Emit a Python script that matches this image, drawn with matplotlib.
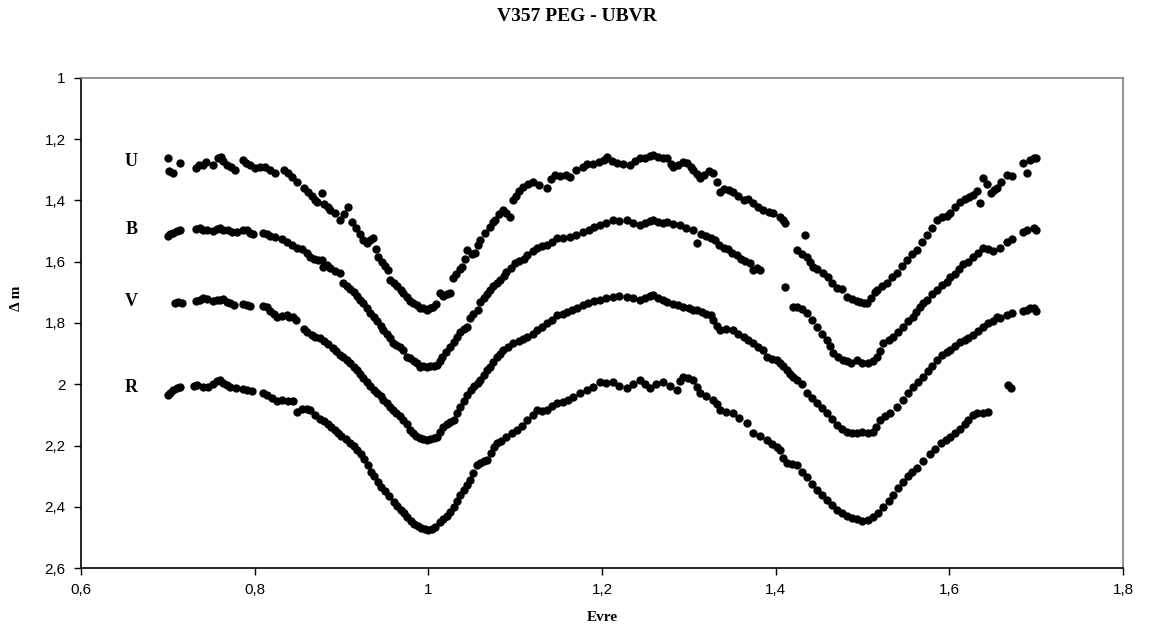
"""Light curves of V357 Peg in U, B, V and R (differential magnitudes)."""

import matplotlib
matplotlib.use("Agg")
import matplotlib.pyplot as plt
from matplotlib.ticker import FuncFormatter


# Phase / delta-m ----------------------------------------------------------------
u_phase = [
    0.700, 0.701, 0.706, 0.714, 0.733, 0.736, 0.741, 0.744, 0.752, 0.758, 0.761, 0.764,
    0.768, 0.773, 0.777, 0.786, 0.790, 0.795, 0.800, 0.806, 0.812, 0.818, 0.823, 0.834,
    0.838, 0.843, 0.849, 0.857, 0.861, 0.866, 0.870, 0.872, 0.877, 0.880, 0.884, 0.887,
    0.892, 0.898, 0.903, 0.907, 0.912, 0.917, 0.921, 0.925, 0.929, 0.933, 0.936, 0.940,
    0.942, 0.947, 0.950, 0.954, 0.956, 0.960, 0.964, 0.968, 0.971, 0.975, 0.979, 0.982,
    0.987, 0.990, 0.994, 0.998, 1.002, 1.005, 1.009, 1.013, 1.017, 1.021, 1.025, 1.028,
    1.032, 1.036, 1.039, 1.042, 1.045, 1.050, 1.054, 1.057, 1.060, 1.065, 1.071, 1.074,
    1.077, 1.081, 1.086, 1.090, 1.094, 1.097, 1.101, 1.105, 1.109, 1.115, 1.121, 1.128,
    1.137, 1.141, 1.146, 1.152, 1.158, 1.163, 1.170, 1.178, 1.183, 1.190, 1.197, 1.202,
    1.206, 1.212, 1.217, 1.224, 1.232, 1.238, 1.244, 1.250, 1.255, 1.259, 1.265, 1.270,
    1.275, 1.279, 1.282, 1.288, 1.293, 1.298, 1.302, 1.305, 1.310, 1.313, 1.318, 1.323,
    1.328, 1.332, 1.336, 1.341, 1.346, 1.351, 1.357, 1.363, 1.368, 1.374, 1.380, 1.386,
    1.392, 1.397, 1.405, 1.409, 1.411, 1.425, 1.430, 1.434, 1.436, 1.440, 1.443, 1.448,
    1.455, 1.460, 1.465, 1.471, 1.476, 1.482, 1.488, 1.494, 1.497, 1.502, 1.505, 1.510,
    1.514, 1.517, 1.522, 1.528, 1.534, 1.540, 1.545, 1.551, 1.557, 1.563, 1.568, 1.574,
    1.580, 1.586, 1.592, 1.597, 1.601, 1.606, 1.612, 1.618, 1.623, 1.627, 1.632, 1.635,
    1.639, 1.643, 1.648, 1.652, 1.655, 1.660, 1.666, 1.672, 1.685, 1.689, 1.693, 1.697,
    1.700,
]
u_mag = [
    1.261, 1.305, 1.311, 1.277, 1.295, 1.284, 1.283, 1.274, 1.285, 1.262, 1.258, 1.270,
    1.284, 1.292, 1.301, 1.268, 1.276, 1.283, 1.294, 1.290, 1.290, 1.300, 1.311, 1.302,
    1.311, 1.322, 1.339, 1.360, 1.372, 1.385, 1.398, 1.406, 1.376, 1.412, 1.422, 1.431,
    1.440, 1.464, 1.445, 1.421, 1.470, 1.490, 1.508, 1.528, 1.538, 1.530, 1.522, 1.560,
    1.584, 1.600, 1.615, 1.627, 1.660, 1.668, 1.680, 1.692, 1.701, 1.715, 1.728, 1.735,
    1.740, 1.751, 1.751, 1.758, 1.750, 1.747, 1.738, 1.701, 1.712, 1.705, 1.701, 1.653,
    1.640, 1.625, 1.616, 1.590, 1.562, 1.575, 1.572, 1.545, 1.528, 1.505, 1.487, 1.470,
    1.464, 1.445, 1.431, 1.440, 1.454, 1.398, 1.385, 1.370, 1.355, 1.345, 1.339, 1.348,
    1.360, 1.330, 1.317, 1.320, 1.318, 1.323, 1.300, 1.290, 1.282, 1.280, 1.274, 1.268,
    1.258, 1.270, 1.277, 1.280, 1.284, 1.272, 1.261, 1.262, 1.255, 1.252, 1.258, 1.262,
    1.261, 1.280, 1.290, 1.285, 1.275, 1.277, 1.290, 1.301, 1.315, 1.325, 1.318, 1.305,
    1.311, 1.340, 1.372, 1.362, 1.365, 1.372, 1.385, 1.398, 1.395, 1.408, 1.420, 1.431,
    1.438, 1.441, 1.455, 1.464, 1.473, 1.562, 1.575, 1.513, 1.584, 1.600, 1.616, 1.625,
    1.637, 1.650, 1.670, 1.685, 1.690, 1.715, 1.722, 1.728, 1.731, 1.735, 1.735, 1.720,
    1.700, 1.692, 1.680, 1.670, 1.650, 1.637, 1.615, 1.594, 1.575, 1.562, 1.535, 1.513,
    1.490, 1.464, 1.455, 1.450, 1.441, 1.420, 1.404, 1.395, 1.390, 1.382, 1.370, 1.408,
    1.327, 1.345, 1.375, 1.365, 1.360, 1.340, 1.317, 1.320, 1.277, 1.311, 1.268, 1.262,
    1.261,
]

b_phase = [
    0.700, 0.702, 0.706, 0.710, 0.714, 0.733, 0.737, 0.741, 0.745, 0.752, 0.757, 0.760,
    0.764, 0.769, 0.774, 0.780, 0.787, 0.791, 0.795, 0.798, 0.810, 0.814, 0.818, 0.823,
    0.831, 0.837, 0.843, 0.849, 0.855, 0.860, 0.864, 0.868, 0.873, 0.877, 0.879, 0.883,
    0.887, 0.893, 0.898, 0.902, 0.906, 0.910, 0.914, 0.918, 0.921, 0.925, 0.929, 0.933,
    0.937, 0.941, 0.945, 0.948, 0.952, 0.956, 0.959, 0.963, 0.967, 0.971, 0.975, 0.979,
    0.983, 0.987, 0.990, 0.994, 0.998, 1.002, 1.006, 1.010, 1.013, 1.016, 1.020, 1.025,
    1.029, 1.033, 1.037, 1.041, 1.045, 1.048, 1.052, 1.057, 1.060, 1.064, 1.068, 1.071,
    1.075, 1.079, 1.083, 1.087, 1.090, 1.095, 1.100, 1.105, 1.110, 1.114, 1.120, 1.125,
    1.131, 1.137, 1.142, 1.148, 1.155, 1.163, 1.170, 1.178, 1.185, 1.191, 1.198, 1.205,
    1.213, 1.220, 1.229, 1.236, 1.244, 1.250, 1.255, 1.259, 1.265, 1.270, 1.275, 1.282,
    1.290, 1.297, 1.305, 1.309, 1.314, 1.320, 1.325, 1.330, 1.335, 1.340, 1.345, 1.350,
    1.355, 1.360, 1.365, 1.370, 1.374, 1.378, 1.382, 1.411, 1.420, 1.425, 1.430, 1.436,
    1.442, 1.448, 1.453, 1.459, 1.463, 1.466, 1.472, 1.478, 1.482, 1.487, 1.494, 1.500,
    1.506, 1.512, 1.517, 1.520, 1.524, 1.530, 1.535, 1.541, 1.547, 1.552, 1.558, 1.562,
    1.566, 1.570, 1.574, 1.580, 1.586, 1.592, 1.597, 1.601, 1.606, 1.611, 1.616, 1.622,
    1.627, 1.633, 1.639, 1.645, 1.650, 1.658, 1.666, 1.672, 1.685, 1.690, 1.697, 1.700,
]
b_mag = [
    1.515, 1.508, 1.505, 1.500, 1.498, 1.492, 1.490, 1.495, 1.498, 1.500, 1.492, 1.490,
    1.495, 1.498, 1.503, 1.503, 1.495, 1.498, 1.505, 1.508, 1.505, 1.508, 1.515, 1.518,
    1.525, 1.535, 1.545, 1.555, 1.560, 1.570, 1.584, 1.590, 1.594, 1.594, 1.616, 1.612,
    1.620, 1.630, 1.637, 1.670, 1.680, 1.690, 1.700, 1.712, 1.725, 1.735, 1.750, 1.768,
    1.780, 1.795, 1.810, 1.823, 1.835, 1.850, 1.865, 1.872, 1.880, 1.889, 1.911, 1.915,
    1.925, 1.930, 1.944, 1.940, 1.944, 1.942, 1.940, 1.937, 1.925, 1.911, 1.895, 1.878,
    1.862, 1.846, 1.830, 1.820, 1.812, 1.784, 1.770, 1.758, 1.731, 1.718, 1.705, 1.693,
    1.680, 1.670, 1.660, 1.648, 1.634, 1.620, 1.604, 1.598, 1.590, 1.579, 1.565, 1.555,
    1.550, 1.545, 1.535, 1.522, 1.522, 1.519, 1.512, 1.503, 1.495, 1.488, 1.480, 1.475,
    1.464, 1.468, 1.464, 1.472, 1.480, 1.472, 1.466, 1.464, 1.470, 1.472, 1.470, 1.478,
    1.480, 1.490, 1.497, 1.538, 1.510, 1.515, 1.522, 1.530, 1.545, 1.555, 1.560, 1.570,
    1.579, 1.590, 1.598, 1.604, 1.627, 1.620, 1.627, 1.682, 1.747, 1.747, 1.755, 1.768,
    1.790, 1.812, 1.835, 1.855, 1.875, 1.898, 1.910, 1.921, 1.925, 1.930, 1.921, 1.930,
    1.930, 1.925, 1.911, 1.890, 1.865, 1.855, 1.846, 1.830, 1.812, 1.795, 1.780, 1.765,
    1.747, 1.735, 1.725, 1.705, 1.693, 1.675, 1.665, 1.650, 1.640, 1.625, 1.609, 1.600,
    1.584, 1.570, 1.555, 1.560, 1.565, 1.555, 1.535, 1.525, 1.503, 1.498, 1.490, 1.495,
]

v_phase = [
    0.708, 0.712, 0.716, 0.733, 0.737, 0.741, 0.745, 0.752, 0.757, 0.760, 0.764, 0.768,
    0.772, 0.776, 0.787, 0.791, 0.795, 0.810, 0.814, 0.818, 0.822, 0.826, 0.831, 0.837,
    0.840, 0.844, 0.848, 0.857, 0.860, 0.866, 0.870, 0.875, 0.880, 0.885, 0.890, 0.894,
    0.898, 0.902, 0.906, 0.910, 0.914, 0.918, 0.921, 0.925, 0.929, 0.933, 0.937, 0.941,
    0.945, 0.948, 0.952, 0.956, 0.959, 0.963, 0.967, 0.971, 0.975, 0.979, 0.982, 0.986,
    0.990, 0.994, 0.998, 1.002, 1.006, 1.010, 1.014, 1.017, 1.021, 1.025, 1.029, 1.033,
    1.037, 1.041, 1.045, 1.049, 1.053, 1.057, 1.060, 1.064, 1.068, 1.071, 1.075, 1.079,
    1.083, 1.086, 1.092, 1.098, 1.104, 1.109, 1.114, 1.120, 1.125, 1.131, 1.137, 1.142,
    1.148, 1.155, 1.160, 1.165, 1.171, 1.178, 1.184, 1.191, 1.198, 1.205, 1.213, 1.220,
    1.229, 1.236, 1.244, 1.250, 1.255, 1.259, 1.265, 1.270, 1.275, 1.282, 1.287, 1.293,
    1.300, 1.305, 1.309, 1.315, 1.320, 1.325, 1.328, 1.332, 1.336, 1.343, 1.351, 1.357,
    1.363, 1.368, 1.374, 1.380, 1.386, 1.390, 1.396, 1.402, 1.405, 1.409, 1.413, 1.417,
    1.420, 1.425, 1.430, 1.436, 1.442, 1.448, 1.453, 1.459, 1.465, 1.471, 1.476, 1.482,
    1.488, 1.494, 1.500, 1.506, 1.512, 1.516, 1.520, 1.526, 1.532, 1.540, 1.547, 1.552,
    1.558, 1.564, 1.570, 1.576, 1.580, 1.586, 1.592, 1.597, 1.601, 1.606, 1.612, 1.618,
    1.622, 1.627, 1.633, 1.639, 1.645, 1.650, 1.655, 1.658, 1.666, 1.672, 1.685, 1.689,
    1.693, 1.697, 1.700,
]
v_mag = [
    1.735, 1.731, 1.735, 1.728, 1.725, 1.720, 1.721, 1.728, 1.725, 1.725, 1.722, 1.730,
    1.735, 1.740, 1.738, 1.741, 1.745, 1.745, 1.747, 1.760, 1.772, 1.780, 1.778, 1.775,
    1.782, 1.782, 1.790, 1.820, 1.830, 1.838, 1.845, 1.849, 1.860, 1.870, 1.883, 1.893,
    1.903, 1.912, 1.921, 1.932, 1.945, 1.955, 1.965, 1.978, 1.992, 2.005, 2.018, 2.030,
    2.040, 2.051, 2.062, 2.075, 2.085, 2.095, 2.105, 2.117, 2.130, 2.150, 2.160, 2.168,
    2.175, 2.178, 2.182, 2.180, 2.176, 2.172, 2.155, 2.139, 2.130, 2.122, 2.117, 2.095,
    2.074, 2.055, 2.036, 2.020, 2.005, 1.995, 1.985, 1.970, 1.955, 1.944, 1.928, 1.911,
    1.900, 1.889, 1.878, 1.865, 1.860, 1.852, 1.846, 1.835, 1.823, 1.812, 1.800, 1.790,
    1.774, 1.770, 1.764, 1.758, 1.750, 1.741, 1.735, 1.728, 1.725, 1.720, 1.715, 1.712,
    1.715, 1.720, 1.725, 1.718, 1.712, 1.709, 1.718, 1.725, 1.731, 1.738, 1.742, 1.747,
    1.752, 1.756, 1.758, 1.765, 1.770, 1.774, 1.790, 1.810, 1.823, 1.820, 1.823, 1.835,
    1.846, 1.855, 1.865, 1.878, 1.889, 1.911, 1.918, 1.921, 1.930, 1.940, 1.954, 1.965,
    1.975, 1.985, 2.000, 2.029, 2.045, 2.061, 2.078, 2.094, 2.113, 2.133, 2.145, 2.156,
    2.158, 2.160, 2.155, 2.158, 2.156, 2.140, 2.117, 2.105, 2.094, 2.075, 2.051, 2.030,
    2.009, 1.992, 1.976, 1.958, 1.940, 1.921, 1.905, 1.895, 1.889, 1.875, 1.862, 1.855,
    1.848, 1.839, 1.825, 1.812, 1.800, 1.792, 1.780, 1.784, 1.774, 1.768, 1.760, 1.758,
    1.752, 1.751, 1.760,
]

r_phase = [
    0.700, 0.702, 0.706, 0.710, 0.714, 0.730, 0.734, 0.740, 0.746, 0.752, 0.757, 0.760,
    0.764, 0.768, 0.772, 0.778, 0.787, 0.791, 0.797, 0.810, 0.814, 0.820, 0.826, 0.832,
    0.838, 0.844, 0.849, 0.855, 0.860, 0.864, 0.870, 0.875, 0.880, 0.884, 0.888, 0.892,
    0.896, 0.900, 0.905, 0.910, 0.914, 0.918, 0.922, 0.926, 0.930, 0.934, 0.938, 0.942,
    0.946, 0.950, 0.955, 0.960, 0.964, 0.968, 0.972, 0.976, 0.980, 0.984, 0.988, 0.992,
    0.996, 1.000, 1.004, 1.008, 1.013, 1.017, 1.021, 1.025, 1.029, 1.033, 1.037, 1.041,
    1.045, 1.048, 1.052, 1.056, 1.060, 1.064, 1.068, 1.072, 1.076, 1.079, 1.084, 1.090,
    1.096, 1.102, 1.108, 1.114, 1.120, 1.125, 1.131, 1.137, 1.142, 1.148, 1.155, 1.161,
    1.167, 1.175, 1.183, 1.190, 1.198, 1.205, 1.213, 1.220, 1.229, 1.236, 1.244, 1.250,
    1.255, 1.262, 1.270, 1.278, 1.286, 1.290, 1.293, 1.299, 1.305, 1.309, 1.313, 1.320,
    1.328, 1.332, 1.336, 1.343, 1.351, 1.358, 1.367, 1.374, 1.382, 1.390, 1.396, 1.402,
    1.405, 1.409, 1.413, 1.419, 1.425, 1.430, 1.436, 1.442, 1.448, 1.453, 1.459, 1.465,
    1.471, 1.476, 1.482, 1.488, 1.494, 1.500, 1.506, 1.512, 1.518, 1.524, 1.530, 1.535,
    1.541, 1.547, 1.552, 1.557, 1.563, 1.570, 1.578, 1.584, 1.590, 1.596, 1.601, 1.606,
    1.612, 1.618, 1.622, 1.627, 1.632, 1.639, 1.645, 1.668, 1.671,
]
r_mag = [
    2.035, 2.029, 2.020, 2.012, 2.009, 2.005, 2.002, 2.008, 2.009, 2.000, 1.990, 1.985,
    1.995, 2.002, 2.009, 2.012, 2.015, 2.019, 2.022, 2.030, 2.036, 2.045, 2.056, 2.050,
    2.055, 2.056, 2.091, 2.080, 2.082, 2.085, 2.100, 2.112, 2.120, 2.130, 2.140, 2.150,
    2.160, 2.168, 2.180, 2.192, 2.200, 2.215, 2.228, 2.245, 2.265, 2.285, 2.300, 2.318,
    2.335, 2.350, 2.365, 2.385, 2.398, 2.410, 2.420, 2.432, 2.445, 2.455, 2.462, 2.470,
    2.474, 2.476, 2.472, 2.465, 2.450, 2.440, 2.430, 2.418, 2.400, 2.380, 2.362, 2.346,
    2.330, 2.313, 2.290, 2.265, 2.257, 2.252, 2.247, 2.225, 2.205, 2.192, 2.185, 2.172,
    2.160, 2.148, 2.135, 2.117, 2.100, 2.085, 2.088, 2.085, 2.070, 2.061, 2.058, 2.050,
    2.042, 2.030, 2.019, 2.010, 1.992, 1.995, 1.992, 2.005, 2.012, 2.000, 1.985, 2.000,
    2.012, 2.000, 1.992, 2.005, 2.019, 1.990, 1.975, 1.980, 1.985, 2.010, 2.029, 2.040,
    2.051, 2.065, 2.085, 2.090, 2.094, 2.110, 2.126, 2.160, 2.170, 2.182, 2.195, 2.204,
    2.215, 2.240, 2.257, 2.262, 2.263, 2.285, 2.303, 2.325, 2.346, 2.362, 2.378, 2.395,
    2.411, 2.420, 2.430, 2.438, 2.440, 2.445, 2.442, 2.435, 2.420, 2.400, 2.380, 2.360,
    2.340, 2.318, 2.300, 2.285, 2.272, 2.250, 2.228, 2.210, 2.192, 2.182, 2.172, 2.160,
    2.145, 2.130, 2.118, 2.100, 2.095, 2.094, 2.090, 2.002, 2.012,
]

band_names = ["U", "B", "V", "R"]
label_phase = 0.658
label_mag = [1.272, 1.496, 1.731, 2.009]

x_ticks = [0.6, 0.8, 1.0, 1.2, 1.4, 1.6, 1.8]
y_ticks = [1.0, 1.2, 1.4, 1.6, 1.8, 2.0, 2.2, 2.4, 2.6]


def comma_fmt(value, _pos):
    """Excel-style decimal comma, no trailing zeros."""
    text = f"{value:.1f}".rstrip("0").rstrip(".")
    return text.replace(".", ",")


fig = plt.figure(figsize=(11.54, 6.37), dpi=100)
ax = fig.add_axes([0.0702, 0.1083, 0.9029, 0.7693])

for phase, mag in [(u_phase, u_mag), (b_phase, b_mag), (v_phase, v_mag), (r_phase, r_mag)]:
    ax.scatter(phase, mag, s=36, color="black", linewidths=0, zorder=3)

for name, mag in zip(band_names, label_mag):
    ax.text(label_phase, mag, name, ha="center", va="center",
            fontsize=13, fontweight="bold", family="Liberation Serif")

ax.set_xlim(0.6, 1.8)
ax.set_ylim(2.6, 1.0)
ax.set_xticks(x_ticks)
ax.set_yticks(y_ticks)
ax.xaxis.set_major_formatter(FuncFormatter(comma_fmt))
ax.yaxis.set_major_formatter(FuncFormatter(comma_fmt))
ax.tick_params(axis="both", direction="out", length=5, width=1, labelsize=11,
               pad=6, colors="black")
for label in ax.get_xticklabels() + ax.get_yticklabels():
    label.set_family("Liberation Sans")

for side in ["left", "bottom"]:
    ax.spines[side].set_color("black")
    ax.spines[side].set_linewidth(1.2)
for side in ["top", "right"]:
    ax.spines[side].set_color("#808080")
    ax.spines[side].set_linewidth(1.2)

ax.set_xlabel("Evre", fontsize=11, fontweight="bold", family="Liberation Serif", labelpad=10)
ax.set_ylabel("Δ m", fontsize=11, fontweight="bold", family="Liberation Serif")
ax.yaxis.set_label_coords(-0.056, 0.55)
fig.suptitle("V357 PEG - UBVR", y=0.988, fontsize=14, fontweight="bold",
             family="Liberation Serif")

fig.savefig("out.png", dpi=100)
